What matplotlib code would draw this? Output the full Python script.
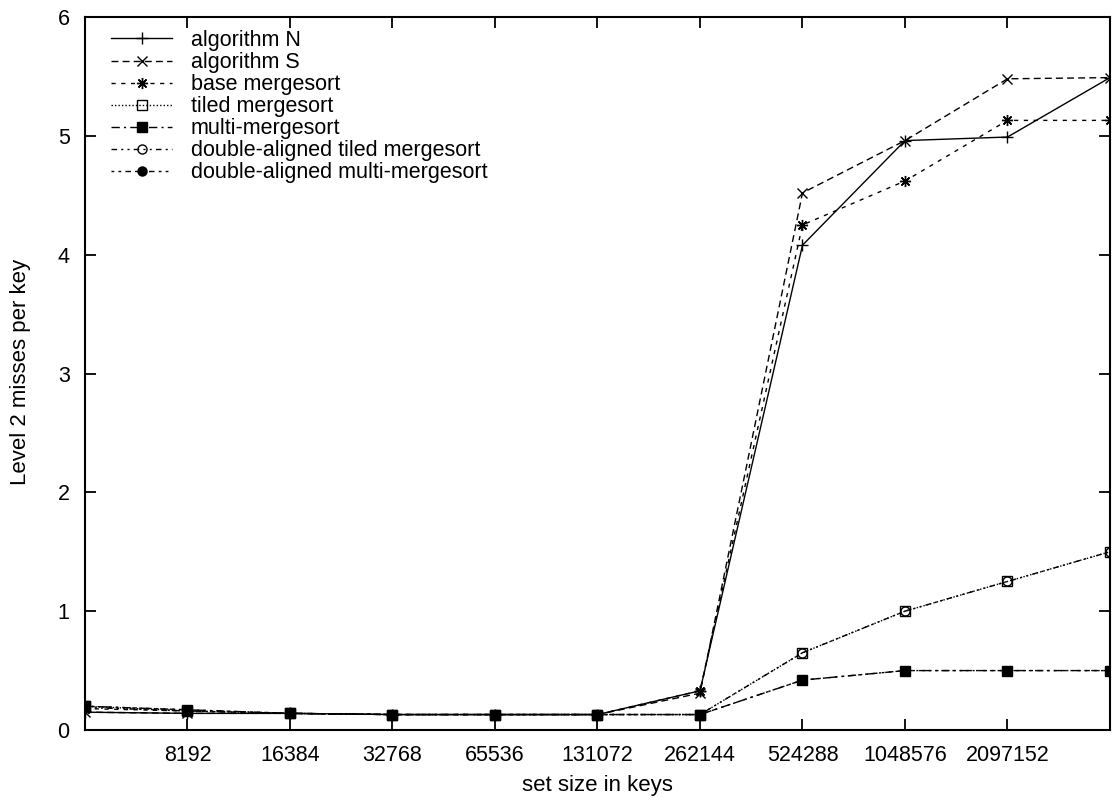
import numpy as np
import matplotlib.pyplot as plt

plt.rcParams['font.family'] = ['Liberation Sans', 'DejaVu Sans']

# set sizes (keys)
sizes = [4096, 8192, 16384, 32768, 65536, 131072, 262144,
         524288, 1048576, 2097152, 4194304]
tick_sizes = [8192, 16384, 32768, 65536, 131072, 262144,
              524288, 1048576, 2097152]

# level 2 misses per key
alg_n = [0.15, 0.14, 0.14, 0.13, 0.13, 0.13, 0.33, 4.08, 4.96, 4.99, 5.49]
alg_s = [0.15, 0.14, 0.14, 0.13, 0.13, 0.13, 0.31, 4.52, 4.96, 5.48, 5.49]
base_ms = [0.18, 0.16, 0.14, 0.13, 0.13, 0.13, 0.33, 4.25, 4.62, 5.13, 5.13]
tiled_ms = [0.20, 0.16, 0.14, 0.13, 0.13, 0.13, 0.13, 0.65, 1.00, 1.25, 1.50]
multi_ms = [0.20, 0.17, 0.14, 0.13, 0.13, 0.13, 0.13, 0.42, 0.50, 0.50, 0.50]
da_tiled_ms = [0.19, 0.16, 0.14, 0.13, 0.13, 0.13, 0.13, 0.65, 1.00, 1.25, 1.50]
da_multi_ms = [0.20, 0.17, 0.14, 0.13, 0.13, 0.13, 0.13, 0.42, 0.50, 0.50, 0.50]

W, H = 1117, 798
fig = plt.figure(figsize=(W / 100, H / 100), dpi=100)
# axes box: left 85, right 1110, top 17, bottom 730 (pixels)
ax = fig.add_axes([85 / W, (H - 730) / H, 1025 / W, 713 / H])

star = (8, 2, 0)
ax.plot(sizes, alg_n, color='black', lw=1, ls='-', marker='+', ms=9,
        mew=1, label='algorithm N')
ax.plot(sizes, alg_s, color='black', lw=1, ls=(0, (5, 3)), marker='x', ms=7,
        mew=1, label='algorithm S')
ax.plot(sizes, base_ms, color='black', lw=1, ls=(0, (3, 4)), marker=star, ms=8,
        mew=1, label='base mergesort')
ax.plot(sizes, tiled_ms, color='black', lw=1, ls=(0, (1, 1.5)), marker='s', ms=7,
        mfc='none', mew=1, label='tiled mergesort')
ax.plot(sizes, multi_ms, color='black', lw=1, ls=(0, (6, 3, 1.5, 3)), marker='s', ms=7.5,
        label='multi-mergesort')
ax.plot(sizes, da_tiled_ms, color='black', lw=1, ls=(0, (4, 3, 1.5, 3, 1.5, 3)), marker='o',
        ms=6.5, mfc='none', mew=1, label='double-aligned tiled mergesort')
ax.plot(sizes, da_multi_ms, color='black', lw=1, ls=(0, (2, 3, 2, 3, 4, 3)), marker='o',
        ms=6.5, label='double-aligned multi-mergesort')

ax.set_xscale('log', base=2)
ax.set_xlim(4096, 4194304)
ax.set_ylim(0, 6)
ax.set_xticks(tick_sizes)
ax.set_xticklabels([str(s) for s in tick_sizes])
ax.minorticks_off()
ax.set_yticks(range(7))
ax.tick_params(direction='in', length=8, width=1.3, top=True, right=True,
               labelsize=15.5, pad=11)
for sp in ax.spines.values():
    sp.set_linewidth(1.5)

fig.text(0.5 * (85 + 1110) / W, (H - 791) / H, 'set size in keys',
         fontsize=16, ha='center', va='baseline')
fig.text(21 / W, 1 - 372 / H, 'Level 2 misses per key',
         fontsize=16, ha='center', va='center', rotation=90)

ax.legend(loc='upper left', frameon=False, fontsize=15.5, handlelength=2.85,
          labelspacing=0.05, borderaxespad=0, borderpad=0,
          bbox_to_anchor=(26 / 1025, 1 - 13 / 713), handletextpad=0.85)

fig.savefig('out.png', dpi=100)
